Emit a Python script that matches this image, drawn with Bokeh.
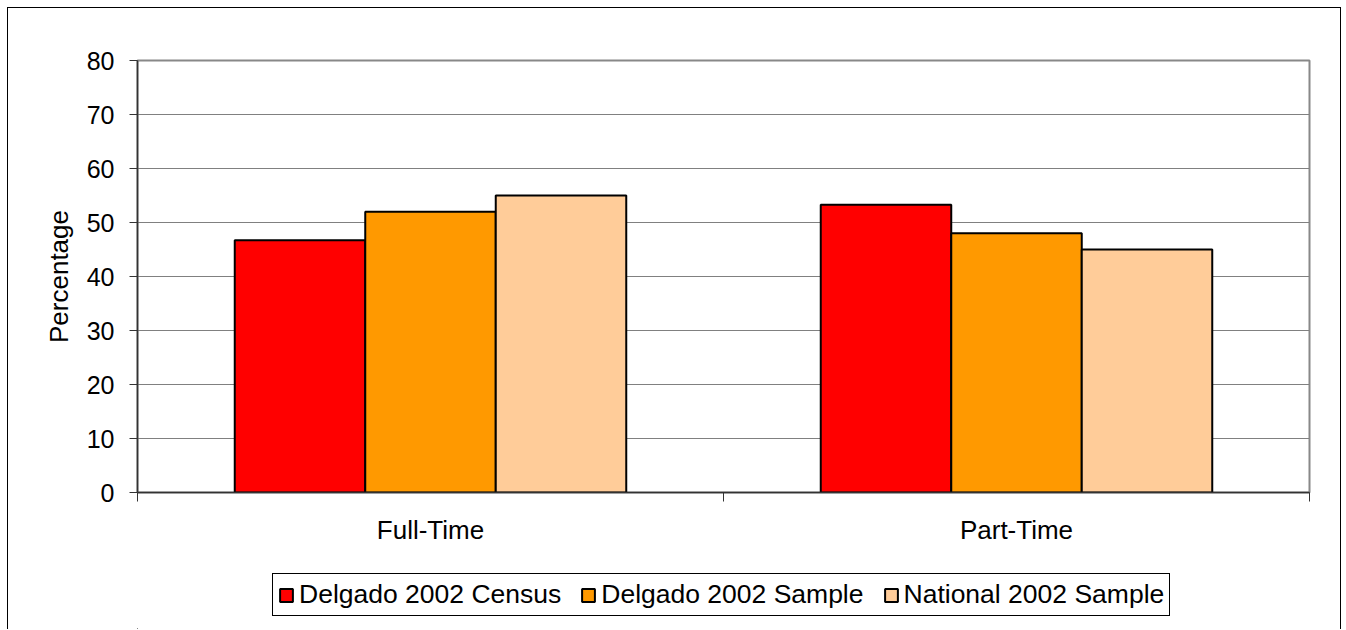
from bokeh.plotting import figure
from bokeh.layouts import column
from bokeh.models import (Range1d, LinearAxis, FixedTicker, Legend, LegendItem,
                          ColumnDataSource)
from bokeh.embed import file_html
from bokeh.resources import INLINE

categories = ["Full-Time", "Part-Time"]
series_names = ["Delgado 2002 Census", "Delgado 2002 Sample", "National 2002 Sample"]
census_2002 = [46.7, 53.3]
sample_2002 = [52.0, 48.0]
national_2002 = [55.0, 45.0]
y_ticks = [0, 10, 20, 30, 40, 50, 60, 70, 80]

series_values = [census_2002, sample_2002, national_2002]
colors = ["#FF0000", "#FF9900", "#FFCC99"]
FONT = "Liberation Sans"

n = len(categories)
p = figure(width=1332, height=555, output_backend="svg", toolbar_location=None,
           x_range=Range1d(0, n), y_range=Range1d(0, 80),
           x_axis_location=None, y_axis_location=None,
           min_border_left=129, min_border_right=31, min_border_top=52,
           min_border_bottom=71)

# axes
yax = LinearAxis(ticker=FixedTicker(ticks=y_ticks))
yax.axis_label = "Percentage"
yax.axis_label_text_font = FONT
yax.axis_label_text_font_size = "26px"
yax.axis_label_text_font_style = "normal"
yax.axis_label_text_color = "#000000"
yax.axis_label_standoff = 10
yax.major_label_text_font = FONT
yax.major_label_text_font_size = "25px"
yax.major_label_text_color = "#000000"
yax.major_label_standoff = 15
yax.major_tick_out = 8
yax.major_tick_in = 0
yax.minor_tick_line_color = None
yax.axis_line_color = "#333333"
yax.axis_line_width = 1.5
yax.major_tick_line_color = "#333333"
p.add_layout(yax, "left")

centers = [i + 0.5 for i in range(n)]
xax = LinearAxis(ticker=FixedTicker(ticks=centers, minor_ticks=list(range(n + 1))))
xax.major_label_overrides = {c: lab for c, lab in zip(centers, categories)}
xax.major_label_text_font = FONT
xax.major_label_text_font_size = "26px"
xax.major_label_text_color = "#000000"
xax.major_tick_line_color = None
xax.major_tick_out = 0
xax.major_tick_in = 0
xax.minor_tick_out = 9
xax.minor_tick_in = 0
xax.minor_tick_line_color = "#333333"
xax.major_label_standoff = 13
xax.axis_line_color = "#333333"
xax.axis_line_width = 1.5
p.add_layout(xax, "below")

p.ygrid.ticker = FixedTicker(ticks=y_ticks)
p.ygrid.grid_line_color = "#808080"
p.ygrid.grid_line_width = 1
p.xgrid.grid_line_color = None
p.outline_line_color = "#888888"
p.outline_line_width = 2
p.outline_line_alpha = 1

# bars
bw = 0.2227
for k, (name, vals, col) in enumerate(zip(series_names, series_values, colors)):
    src = ColumnDataSource(dict(x=[c + (k - 1) * bw for c in centers], top=vals))
    p.vbar(x="x", top="top", bottom=0, width=bw, source=src,
           fill_color=col, line_color="#000000", line_width=2)

# legend strip (separate figure under the chart; its frame aligns with the chart's)
q = figure(width=1332, height=66, output_backend="svg", toolbar_location=None,
           x_range=Range1d(0, 1), y_range=Range1d(0, 1),
           x_axis_location=None, y_axis_location=None, min_border=0)
q.grid.visible = False
q.outline_line_color = None
q.axis.visible = False
items = []
for name, col in zip(series_names, colors):
    # swatch renderer placed entirely outside the visible ranges; only its legend entry shows
    r = q.vbar(x=[-50], top=[-50], bottom=-51, width=0.1,
               fill_color=col, line_color="#000000", line_width=2)
    items.append(LegendItem(label=name, renderers=[r]))

legend = Legend(items=items, orientation="horizontal", location=(135, 13))
legend.label_text_font = FONT
legend.label_text_font_size = "26.5px"
legend.label_text_color = "#000000"
legend.glyph_width = 16
legend.glyph_height = 16
legend.label_standoff = 5
legend.spacing = 19
legend.padding = 5
legend.margin = 0
legend.border_line_color = "#000000"
legend.border_line_alpha = 1
legend.border_line_width = 1
legend.background_fill_alpha = 1
q.add_layout(legend, "center")

layout = column(p, q, spacing=0, margin=(7, 0, 0, 7),
                styles={"border-top": "1.5px solid #000000",
                        "border-left": "1.5px solid #000000",
                        "border-right": "1.5px solid #000000"})

open("out.html", "w").write(file_html(layout, INLINE))
